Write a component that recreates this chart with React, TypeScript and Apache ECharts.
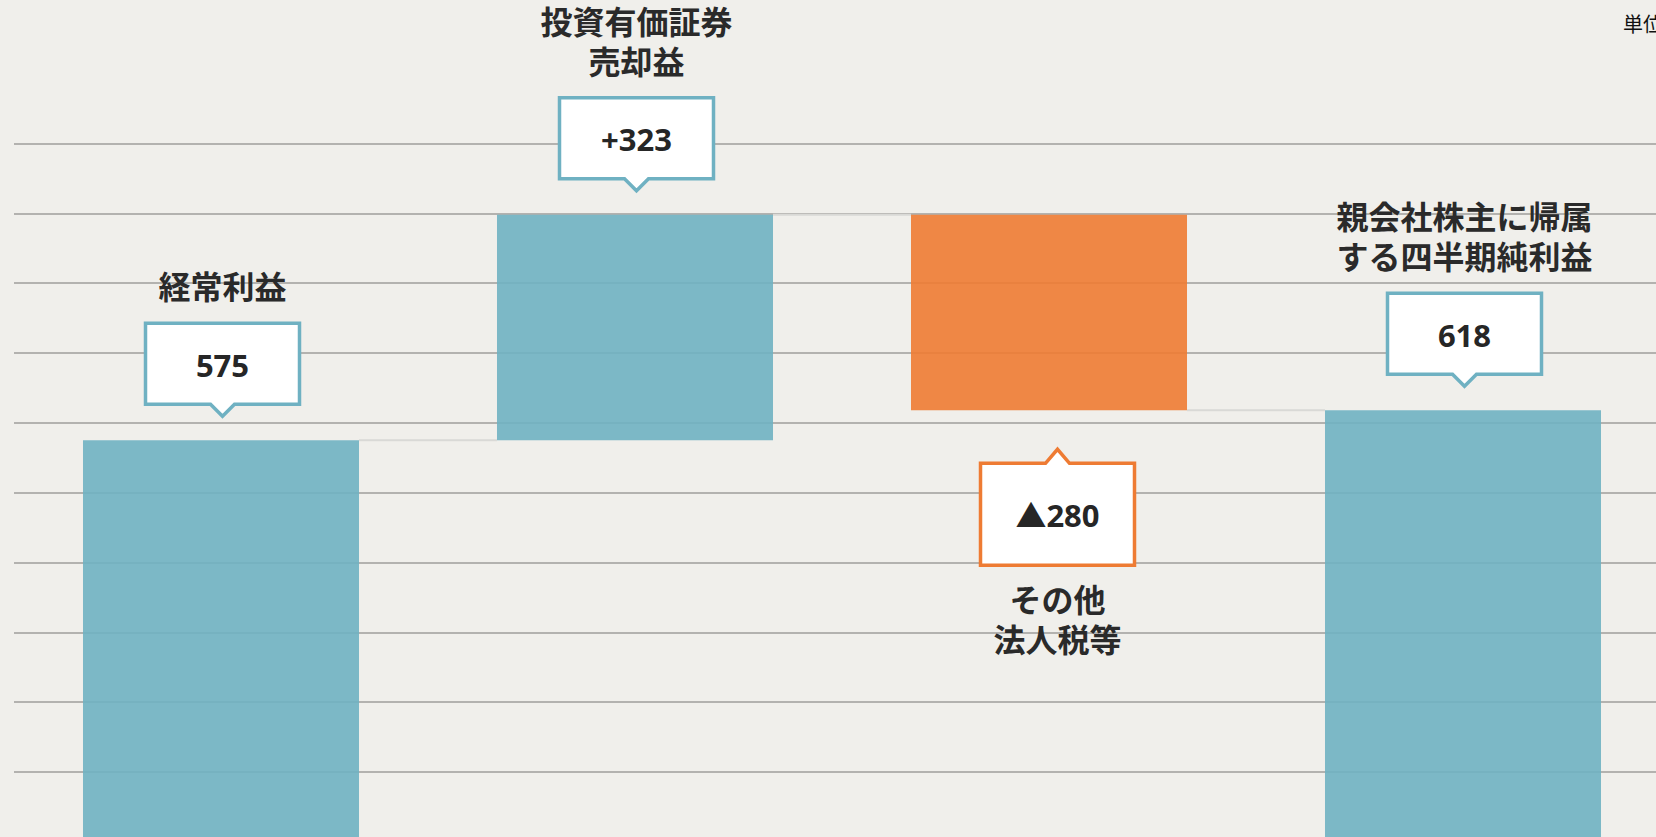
import React, { useEffect, useRef } from "react";
import * as echarts from "echarts";

const categories = ["経常利益", "投資有価証券\n売却益", "その他\n法人税等", "親会社株主に帰属\nする四半期純利益"];
const changes = [575, 323, -280, 618];
const valueLabels = ["575", "+323", "▲280", "618"];
const totalFlags = [true, false, false, true];
const unitLabel = "単位：百万円";

const BLUE = "#6fb1c2";
const ORANGE = "#ee7b33";
const FONT = '"Noto Sans CJK JP", "Noto Sans", sans-serif';
const NUM_FONT = '"Noto Sans", "Noto Sans CJK JP", sans-serif';

export default function App() {
  const ref = useRef<HTMLDivElement>(null);

  useEffect(() => {
    if (!ref.current) return;
    const chart = echarts.init(ref.current, undefined, { renderer: "svg" });

    const bases: number[] = [];
    const heights: number[] = [];
    const levels: number[] = [];
    let running = 0;
    changes.forEach((c, i) => {
      if (totalFlags[i]) {
        bases.push(0);
        heights.push(c);
        running = c;
      } else {
        const next = running + c;
        bases.push(Math.min(running, next));
        heights.push(Math.abs(c));
        running = next;
      }
      levels.push(running);
    });

    const customData = categories.map((_, i) => [
      i,
      bases[i] + heights[i],
      bases[i],
      levels[i],
      changes[i] < 0 ? 1 : 0,
    ]);

    const n = categories.length;

    const renderItem = (params: any, api: any) => {
      const i = api.value(0);
      const top = api.value(1);
      const bottom = api.value(2);
      const level = api.value(3);
      const neg = api.value(4) === 1;
      const [cx, yTop] = api.coord([i, top]);
      const yBot = api.coord([i, bottom])[1];
      const band = api.size([1, 0])[0];
      const bw = (band * 2) / 3;
      const children: any[] = [];
      if (i < n - 1) {
        const nx = api.coord([i + 1, level])[0];
        const ly = api.coord([i, level])[1];
        children.push({
          type: "line",
          shape: { x1: cx + bw / 2, y1: ly, x2: nx - bw / 2, y2: ly },
          style: { stroke: "#d9d9d6", lineWidth: 2 },
        });
      }
      const color = neg ? ORANGE : BLUE;
      const bx = cx + (neg ? 8.5 : 1.5);
      const W = 154;
      const ph = 12;
      const pw = 12;
      let pts: number[][];
      let boxT: number, boxB: number;
      let labelY: number;
      let labelVA: string;
      if (!neg) {
        const tip = yTop - 24;
        boxB = tip - ph;
        boxT = boxB - 81;
        pts = [
          [bx - W / 2, boxT],
          [bx + W / 2, boxT],
          [bx + W / 2, boxB],
          [bx + pw, boxB],
          [bx, tip],
          [bx - pw, boxB],
          [bx - W / 2, boxB],
        ];
        labelY = boxT - 18;
        labelVA = "bottom";
      } else {
        const tip = yBot + 39;
        boxT = tip + 14;
        boxB = boxT + 102;
        pts = [
          [bx - W / 2, boxT],
          [bx - pw, boxT],
          [bx, tip],
          [bx + pw, boxT],
          [bx + W / 2, boxT],
          [bx + W / 2, boxB],
          [bx - W / 2, boxB],
        ];
        labelY = boxB + 13;
        labelVA = "top";
      }
      children.push({
        type: "polygon",
        shape: { points: pts },
        style: { fill: "#ffffff", stroke: color, lineWidth: 3.5, lineJoin: "miter" },
      });
      children.push({
        type: "text",
        style: {
          text: valueLabels[i],
          x: bx,
          y: (boxT + boxB) / 2 + 1,
          align: "center",
          verticalAlign: "middle",
          fill: "#262626",
          fontSize: 31,
          fontWeight: "bold",
          fontFamily: NUM_FONT,
        },
      });
      children.push({
        type: "text",
        style: {
          text: categories[i],
          x: bx,
          y: labelY,
          align: "center",
          verticalAlign: labelVA,
          fill: "#2a2a2a",
          fontSize: 32,
          fontWeight: "bold",
          fontFamily: FONT,
          lineHeight: 40,
        },
      });
      return { type: "group", children };
    };

    chart.setOption({
      animation: false,
      backgroundColor: "#f0efeb",
      grid: { left: 14, top: 143.6, width: 1656, height: 698.1, containLabel: false },
      xAxis: {
        type: "category",
        data: categories,
        axisLine: { show: false },
        axisTick: { show: false },
        axisLabel: { show: false },
        splitLine: { show: false },
      },
      yAxis: {
        type: "value",
        min: 0,
        max: 1000,
        interval: 100,
        axisLine: { show: false },
        axisTick: { show: false },
        axisLabel: { show: false },
        splitLine: { show: true, lineStyle: { color: "#b3b2af", width: 2 } },
      },
      graphic: [
        {
          type: "text",
          left: 1623,
          top: 13,
          style: {
            text: unitLabel,
            fill: "#111111",
            fontSize: 20,
            fontFamily: FONT,
          },
        },
      ],
      series: [
        {
          type: "bar",
          stack: "wf",
          barWidth: "66.67%",
          itemStyle: { color: "transparent" },
          data: bases,
          silent: true,
          z: 2,
        },
        {
          type: "bar",
          stack: "wf",
          barWidth: "66.67%",
          data: heights.map((h, i) => ({
            value: h,
            itemStyle: { color: changes[i] < 0 ? ORANGE : BLUE, opacity: 0.9 },
          })),
          z: 2,
        },
        {
          type: "custom",
          renderItem,
          data: customData,
          z: 5,
          clip: false,
        },
      ],
    });

    return () => chart.dispose();
  }, []);

  return (
    <div
      ref={ref}
      style={{ position: "fixed", left: 0, top: 0, width: 1700, height: 900, background: "#f0efeb" }}
    />
  );
}
